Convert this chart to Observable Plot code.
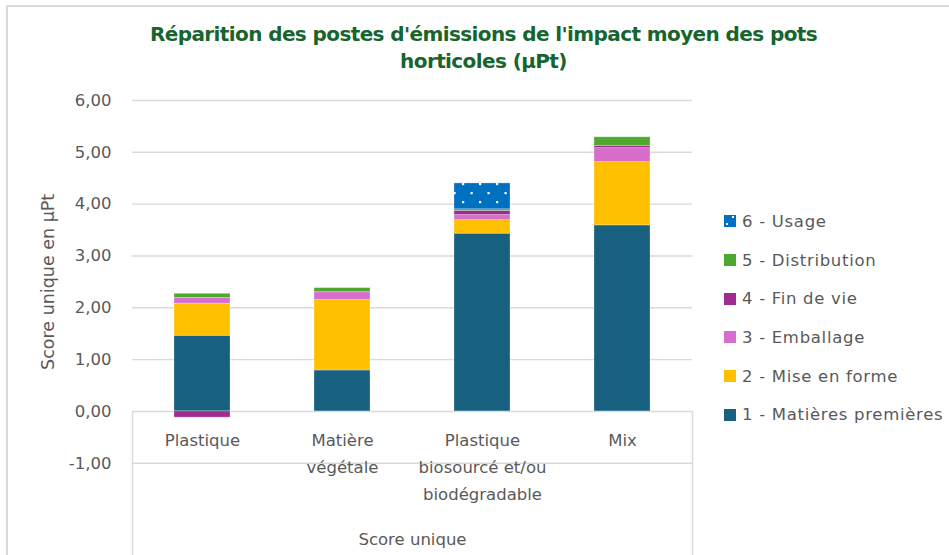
<!DOCTYPE html>
<html>
<head>
<meta charset="utf-8">
<script src="https://cdn.jsdelivr.net/npm/d3@7"></script>
<script src="https://cdn.jsdelivr.net/npm/@observablehq/plot@0.6"></script>
<style>
  html, body { margin: 0; padding: 0; background: #fff; }
  #wrap { position: relative; width: 949px; height: 555px; overflow: hidden; font-family: "DejaVu Sans", sans-serif; color: #595959; }
  #border { position: absolute; left: 6px; top: 5px; width: 960px; height: 600px; border-left: 2px solid #d9d9d9; border-top: 2px solid #d9d9d9; box-sizing: border-box; }
  #title { position: relative; height: 90px; box-sizing: border-box; padding-top: 21px; padding-left: 18px; width: 949px; text-align: center;
           font-family: "DejaVu Sans", sans-serif; font-weight: 700; font-size: 20px; line-height: 27px; color: #17652d; letter-spacing: -0.6px; }
  #legend { position: absolute; left: 724px; top: 202px; font-size: 16.5px; color: #595959; letter-spacing: 0.7px; }
  .item { height: 38.7px; display: flex; align-items: center; }
  .item svg { margin-right: 6px; }
</style>
</head>
<body>
<div id="wrap">
  <div id="border"></div>
  <div id="title">Réparition des postes d'émissions de l'impact moyen des pots<br>horticoles (µPt)</div>
  <div id="chart"></div>
  <div id="legend"></div>
</div>
<script>
// ---- data ----
const categories = ["Plastique", "Matière végétale", "Plastique biosourcé et/ou biodégradable", "Mix"];
const categoryLabels = ["Plastique", "Matière\nvégétale", "Plastique\nbiosourcé et/ou\nbiodégradable", "Mix"];
const series = ["1 - Matières premières", "2 - Mise en forme", "3 - Emballage", "4 - Fin de vie", "5 - Distribution", "6 - Usage"];
const matieresPremieres = [1.46, 0.79, 3.43, 3.59];
const miseEnForme      = [0.62, 1.36, 0.26, 1.22];
const emballage        = [0.11, 0.15, 0.10, 0.27];
const finDeVie         = [-0.12, 0.00, 0.08, 0.04];
const distribution     = [0.08, 0.08, 0.03, 0.17];
const usage            = [0.00, 0.00, 0.50, 0.00];
const yTicks = [-1, 0, 1, 2, 3, 4, 5, 6];
const axisTitle = "Score unique";
const yTitle = "Score unique en µPt";
const colors = ["#17607f", "#ffc000", "#d86ecc", "#a02b93", "#4ea72e", "url(#dots)"];

const valuesBySeries = [matieresPremieres, miseEnForme, emballage, finDeVie, distribution, usage];
const rows = [];
series.forEach((s, si) => categories.forEach((c, ci) => rows.push({category: c, series: s, value: valuesBySeries[si][ci]})));

const fmt = d => d3.format(".2f")(d).replace(".", ",").replace("−", "-");

const W = 949, H = 465, ML = 132, MR = 257;
const step = (W - ML - MR) / categories.length;

const plot = Plot.plot({
  width: W,
  height: H,
  marginTop: 10,
  marginBottom: 0,
  marginLeft: ML,
  marginRight: MR,
  style: {fontFamily: "DejaVu Sans, sans-serif", fontSize: "16px", color: "#595959", background: "transparent", overflow: "visible"},
  x: {domain: categories, paddingInner: 0.6, paddingOuter: 0.3, axis: null},
  y: {domain: [-2.78, 6], axis: null},
  color: {domain: series, range: colors},
  marks: [
    Plot.ruleY(yTicks, {stroke: "#d9d9d9", strokeWidth: 1.4}),
    Plot.ruleX([categories[0]], {x: d => d, dx: -step / 2, y1: 0, y2: -2.78, stroke: "#d9d9d9", strokeWidth: 1.4}),
    Plot.ruleX([categories[categories.length - 1]], {x: d => d, dx: step / 2, y1: 0, y2: -2.78, stroke: "#d9d9d9", strokeWidth: 1.4}),
    Plot.barY(rows, Plot.stackY({order: series, x: "category", y: "value", fill: "series", stroke: "#ffffff", strokeOpacity: 0.35, strokeWidth: 0.8})),
    Plot.text(yTicks, {frameAnchor: "left", y: d => d, text: d => fmt(d), textAnchor: "end", dx: -21, fill: "#595959", fontSize: 16.5, letterSpacing: 0.3}),
    Plot.text(categories, {x: d => d, y: () => 0, text: (d, i) => categoryLabels[i], lineAnchor: "top", dy: 16, lineHeight: 1.62, fill: "#595959", fontSize: 16.5, letterSpacing: 0.8}),
    Plot.text([axisTitle], {frameAnchor: "bottom", dy: -11, fill: "#595959", fontSize: 16.5, letterSpacing: 0.8}),
    Plot.text([yTitle], {frameAnchor: "left", y: () => 2.5, rotate: -90, textAnchor: "middle", dx: -84, fill: "#595959", fontSize: 17.5, letterSpacing: 1.6})
  ]
});

// pattern for "6 - Usage"
const defs = `<defs><pattern id="dots" patternUnits="userSpaceOnUse" width="17" height="18">
  <rect width="17" height="18" fill="#0070c0"/>
  <rect x="3" y="3" width="2.2" height="2.2" fill="#fff"/>
  <rect x="11.5" y="12" width="2.2" height="2.2" fill="#fff"/>
</pattern></defs>`;
plot.insertAdjacentHTML("afterbegin", defs);
document.getElementById("chart").appendChild(plot);

// legend (top to bottom: reverse series order)
const legend = document.getElementById("legend");
series.slice().reverse().forEach(s => {
  const i = series.indexOf(s);
  const div = document.createElement("div");
  div.className = "item";
  div.innerHTML = `<svg width="12" height="12"><defs><pattern id="dotsL" patternUnits="userSpaceOnUse" width="12" height="12"><rect width="12" height="12" fill="#0070c0"/><rect x="8" y="1" width="2" height="2" fill="#fff"/><rect x="2" y="8" width="2" height="2" fill="#fff"/></pattern></defs><rect width="12" height="12" fill="${i === 5 ? "url(#dotsL)" : colors[i]}"/></svg><span>${s}</span>`;
  legend.appendChild(div);
});
</script>
</body>
</html>
